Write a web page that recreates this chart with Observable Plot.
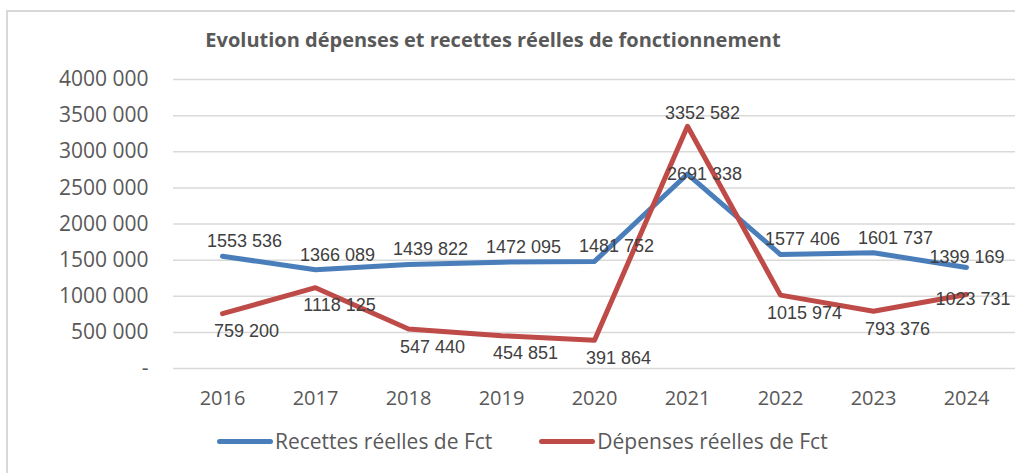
<!DOCTYPE html>
<html><head><meta charset="utf-8">
<script src="https://cdn.jsdelivr.net/npm/d3@7"></script>
<script src="https://cdn.jsdelivr.net/npm/@observablehq/plot@0.6"></script>
<style>
html,body{margin:0;padding:0;background:#fff;}
#wrap{position:relative;width:1015px;height:473px;overflow:hidden;background:#fff;}
#frame{position:absolute;left:6px;top:10px;width:1200px;height:600px;border:2px solid #d9d9d9;box-sizing:border-box;}
#title{position:absolute;left:0;width:986px;top:28px;text-align:center;font-family:"Open Sans";font-weight:bold;font-size:20px;line-height:24px;color:#595959;white-space:nowrap;}
#chart{position:absolute;left:0;top:60px;}
#legend{position:absolute;left:217px;top:429px;display:flex;align-items:center;font-family:"Open Sans";font-size:21px;line-height:24px;color:#595959;white-space:nowrap;}
.item{display:flex;align-items:center;margin-right:47px;}
.swatch{width:56px;height:5px;border-radius:3px;margin-right:2px;}
</style>
</head><body>
<div id="wrap">
  <div id="frame"></div>
  <div id="title">Evolution dépenses et recettes réelles de fonctionnement</div>
  <div id="chart"></div>
  <div id="legend"></div>
</div>
<script>
const years = ["2016","2017","2018","2019","2020","2021","2022","2023","2024"];
const recettes = [1553536,1366089,1439822,1472095,1481752,2691338,1577406,1601737,1399169];
const depenses = [759200,1118125,547440,454851,391864,3352582,1015974,793376,1023731];
const seriesNames = ["Recettes réelles de Fct","Dépenses réelles de Fct"];
const seriesColors = ["#4a7ebb","#be4b48"];
const yTicks = [0,500000,1000000,1500000,2000000,2500000,3000000,3500000,4000000];

function fmt(v){
  if (v === 0) return "-";
  if (v < 1000) return String(v);
  return Math.floor(v/1000) + " " + String(v % 1000).padStart(3,"0");
}

const seriesValues = [recettes, depenses];
const lastYear = years[years.length - 1];
const rows = [];
seriesNames.forEach((s, i) => {
  const vals = seriesValues[i];
  const mx = Math.max(...vals);
  years.forEach((y, j) => rows.push({year: y, value: vals[j], series: s, isMax: vals[j] === mx, isLast: y === lastYear}));
});

const labelStyle = {fontSize: 18, fontFamily: "Liberation Sans, Arial, sans-serif", fill: "#404040"};
const rec = rows.filter(d => d.series === seriesNames[0]);
const dep = rows.filter(d => d.series === seriesNames[1]);
const lbl = d => fmt(d.value);

const chart = Plot.plot({
  width: 1015,
  height: 358,
  marginTop: 19,
  marginBottom: 50,
  marginLeft: 173,
  marginRight: 0,
  style: {fontFamily: "Open Sans", background: "transparent", overflow: "visible"},
  x: {type: "point", domain: years, padding: 0.5, label: null},
  y: {domain: [0, 4000000], label: null},
  color: {domain: seriesNames, range: seriesColors},
  marks: [
    Plot.ruleY(yTicks, {stroke: "#d9d9d9", strokeWidth: 1.5}),
    Plot.axisY(yTicks, {tickSize: 0, tickPadding: 25, tickFormat: fmt, fontSize: 21, fill: "#595959", label: null}),
    Plot.axisX({tickSize: 0, tickPadding: 22, fontSize: 20, fill: "#595959", label: null}),
    Plot.line(rows, {x: "year", y: "value", z: "series", stroke: "series", strokeWidth: 5, strokeLinecap: "round", strokeLinejoin: "round"}),
    Plot.text(rec.filter(d => !d.isMax && !d.isLast), {x: "year", y: "value", text: lbl, dx: 22, dy: -15, ...labelStyle}),
    Plot.text(rec.filter(d => d.isMax), {x: "year", y: "value", text: lbl, dx: 17, dy: 0, ...labelStyle}),
    Plot.text(rec.filter(d => d.isLast), {x: "year", y: "value", text: lbl, textAnchor: "end", dx: 38, dy: -10, ...labelStyle}),
    Plot.text(dep.filter(d => !d.isMax && !d.isLast), {x: "year", y: "value", text: lbl, dx: 24, dy: 18, ...labelStyle}),
    Plot.text(dep.filter(d => d.isMax), {x: "year", y: "value", text: lbl, dx: 15, dy: -13, ...labelStyle}),
    Plot.text(dep.filter(d => d.isLast), {x: "year", y: "value", text: lbl, textAnchor: "end", dx: 44, dy: 5, ...labelStyle})
  ]
});
document.getElementById("chart").appendChild(chart);

const legend = document.getElementById("legend");
seriesNames.forEach((s, i) => {
  const item = document.createElement("div");
  item.className = "item";
  const sw = document.createElement("div");
  sw.className = "swatch";
  sw.style.background = seriesColors[i];
  const t = document.createElement("span");
  t.textContent = s;
  item.appendChild(sw);
  item.appendChild(t);
  legend.appendChild(item);
});
</script>
</body></html>
